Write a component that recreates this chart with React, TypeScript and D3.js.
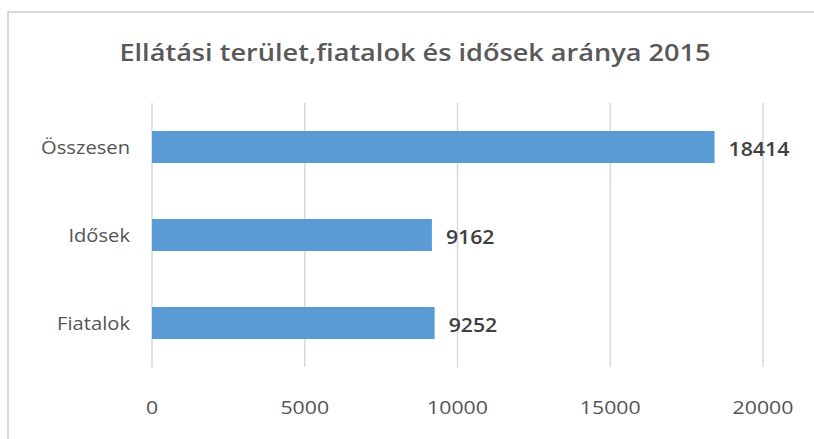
import React from "react";
import * as d3 from "d3";

const categories = ["Összesen", "Idősek", "Fiatalok"];
const values = [18414, 9162, 9252];
const xTicks = [0, 5000, 10000, 15000, 20000];
const title = "Ellátási terület,fiatalok és idősek aránya 2015";

const W = 814;
const H = 439;
const FONT = "'Open Sans', 'DejaVu Sans', sans-serif";
const SX = 1.12; // text is a bit stretched in the original

export default function App() {
  const x = d3.scaleLinear().domain([0, 20000]).range([152, 763]);
  const y = d3
    .scaleBand<string>()
    .domain(categories)
    .range([103, 367])
    .paddingInner(0.636)
    .paddingOuter(0.318);

  const txt = (tx: number, ty: number, s: string, opts: any = {}) => (
    <text
      transform={`translate(${tx},${ty}) scale(${opts.sx ?? SX},1)`}
      textAnchor={opts.anchor ?? "middle"}
      dominantBaseline="central"
      fontFamily={FONT}
      fontSize={opts.size ?? 18}
      fontWeight={opts.weight ?? 400}
      fill={opts.fill ?? "#555555"}
    >
      {s}
    </text>
  );

  return (
    <svg
      width={W}
      height={H}
      style={{ position: "absolute", left: 0, top: 0, background: "#fff" }}
    >
      <rect x={8} y={12} width={830} height={450} fill="#fff" stroke="#d9d9d9" strokeWidth={2} />

      {txt(415, 52, title, { size: 23, sx: 1.18, weight: 600, fill: "#595959" })}

      {/* gridlines */}
      {xTicks.map((t) => (
        <line key={t} x1={x(t)} x2={x(t)} y1={103} y2={367} stroke="#d9d9d9" strokeWidth={1.5} />
      ))}

      {/* bars */}
      {categories.map((c, i) => (
        <rect
          key={c}
          x={x(0)}
          y={y(c)}
          width={x(values[i]) - x(0)}
          height={y.bandwidth()}
          fill="#5b9bd5"
        />
      ))}

      {/* category labels */}
      {categories.map((c) => (
        <g key={c}>{txt(130, (y(c) as number) + y.bandwidth() / 2, c, { anchor: "end", size: 18 })}</g>
      ))}

      {/* value labels */}
      {categories.map((c, i) => (
        <g key={c}>
          {txt(x(values[i]) + 14, (y(c) as number) + y.bandwidth() / 2 + 1, String(values[i]), {
            anchor: "start",
            size: 19,
            weight: 600,
            fill: "#404040",
          })}
        </g>
      ))}

      {/* x axis labels */}
      {xTicks.map((t) => (
        <g key={t}>{txt(x(t), 406, String(t), { size: 19 })}</g>
      ))}
    </svg>
  );
}
